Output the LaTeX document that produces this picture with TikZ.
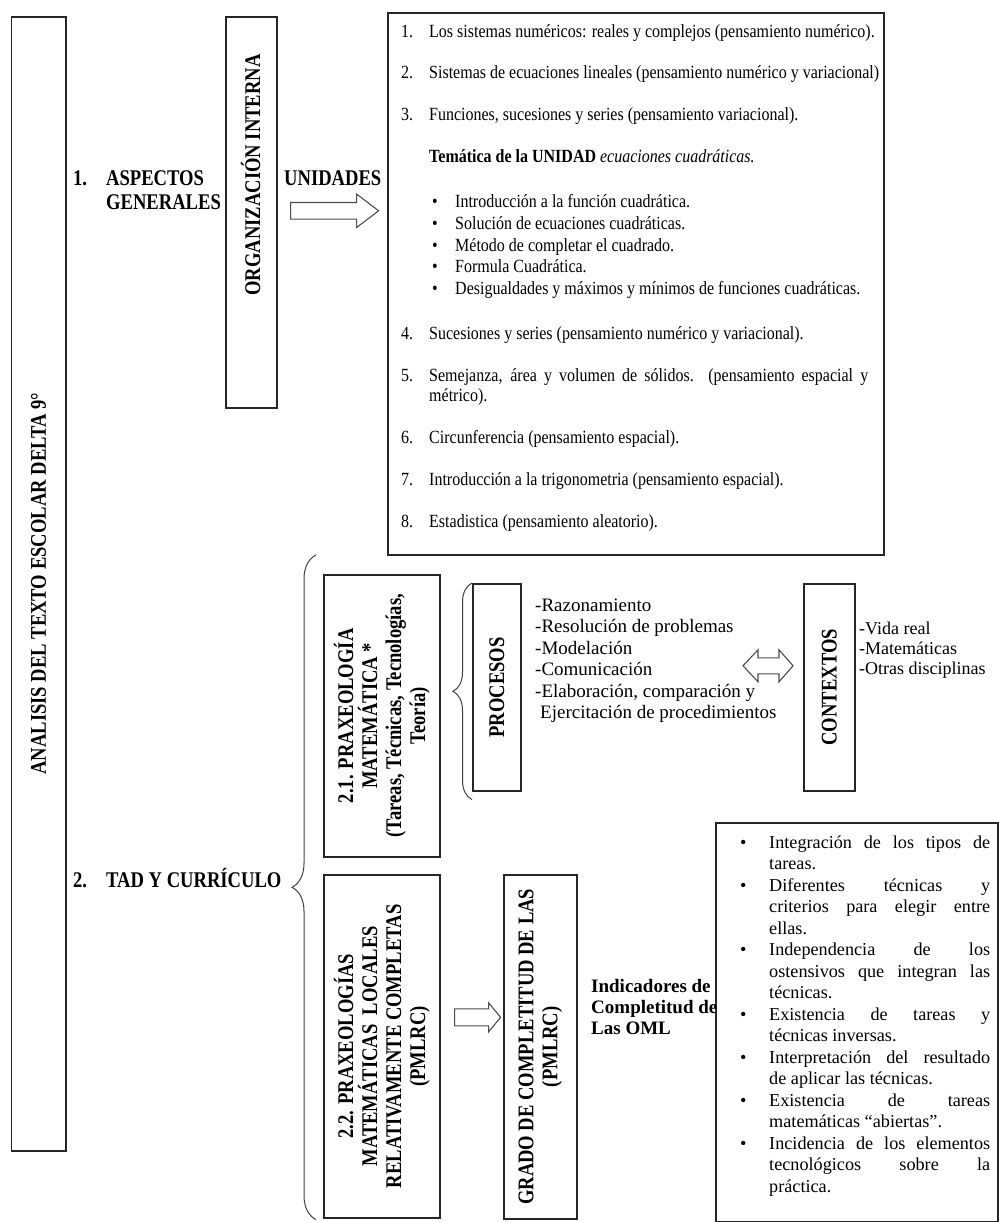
\documentclass[tikz,border=0pt]{standalone}
\usepackage{fontspec}
\setmainfont{Liberation Serif}
\newfontfamily\labf[FakeStretch=0.83]{Liberation Serif}
\newfontfamily\unif[FakeStretch=0.86]{Liberation Serif}
\usetikzlibrary{decorations.pathreplacing,calc}
\newcommand\jl[1]{\makebox[221pt][s]{#1}}
\tikzset{
 box/.style={draw=black!85, line width=1.6pt, inner sep=0pt},
 lab/.style={font=\labf\bfseries\fontsize{22.4}{24}\selectfont, inner sep=0pt, align=center},
 hlab/.style={lab, anchor=base west},
 rlab/.style={lab, rotate=90},
 unit/.style={font=\unif\fontsize{18.6}{21.6}\selectfont, inner sep=0pt, anchor=base west},
 proc/.style={font=\fontsize{19}{21.4}\selectfont, inner sep=0pt, anchor=base west},
 ctxt/.style={font=\fontsize{18}{20}\selectfont, inner sep=0pt, anchor=base west},
 indt/.style={font=\bfseries\fontsize{19}{21}\selectfont, inner sep=0pt, anchor=base west},
 lst/.style={font=\fontsize{18.2}{21.5}\selectfont, inner sep=0pt, anchor=base west},
 harrow/.style={draw=black!70, line width=1.1pt, fill=white, line join=miter},
 brc/.style={decorate, draw=black!75, line width=1pt},
}
\begin{document}
\begin{tikzpicture}[x=1pt,y=-1pt]
\useasboundingbox (0,0) rectangle (998,1222);
% boxes
\node[box, anchor=north west, minimum width=54.3pt, minimum height=1134pt] (left) at (10.7,16) {};
\node[box, anchor=north west, minimum width=51pt, minimum height=391pt] (org) at (225,16) {};
\node[box, anchor=north west, minimum width=496pt, minimum height=542pt] (units) at (387,12) {};
\node[box, anchor=north west, minimum width=116pt, minimum height=282pt] (p21) at (323,574) {};
\node[box, anchor=north west, minimum width=48pt, minimum height=207pt] (proc) at (472,583) {};
\node[box, anchor=north west, minimum width=51pt, minimum height=207pt] (ctx) at (803,583) {};
\node[box, anchor=north west, minimum width=116pt, minimum height=343pt] (p22) at (323,874) {};
\node[box, anchor=north west, minimum width=73pt, minimum height=344pt] (grado) at (503,874) {};
\node[box, anchor=north west, minimum width=282pt, minimum height=399pt] (indbox) at (715,822) {};
% rotated labels
\node[rlab] (lefttxt) at (left.center) {ANALISIS DEL TEXTO ESCOLAR DELTA 9°};
\node[rlab] (orgtxt) at (250.5,175) {ORGANIZACIÓN INTERNA};
\node[rlab] (p21txt) at (p21.center) {2.1. PRAXEOLOGÍA\\MATEMÁTICA *\\(Tareas, Técnicas, Tecnologías,\\Teoría)};
\node[rlab] (proctxt) at (proc.center) {PROCESOS};
\node[rlab] (ctxtxt) at (ctx.center) {CONTEXTOS};
\node[rlab] (p22txt) at (p22.center) {2.2. PRAXEOLOGÍAS\\MATEMÁTICAS~~LOCALES\\RELATIVAMENTE COMPLETAS\\(PMLRC)};
\node[rlab] (gradotxt) at (grado.center) {GRADO DE COMPLETITUD DE LAS\\(PMLRC)};
% horizontal labels
\node[hlab] (n1lab) at (73,186) {1.};
\node[hlab] (asp) at (106,186) {ASPECTOS};
\node[hlab] (gen) at (106,210) {GENERALES};
\node[hlab] (unid) at (284,186) {UNIDADES};
\node[hlab] (n2lab) at (73,887) {2.};
\node[hlab] (tad) at (106,887) {TAD Y CURRÍCULO};
% unidades list
\node[unit] (n1) at (401,38) {1.};
\node[unit] (u1) at (429,38) {Los sistemas numéricos: reales y complejos (pensamiento numérico).};
\node[unit] (n2) at (401,79) {2.};
\node[unit] (u2) at (429,79) {Sistemas de ecuaciones lineales (pensamiento numérico y variacional)};
\node[unit] (n3) at (401,121) {3.};
\node[unit] (u3) at (429,121) {Funciones, sucesiones y series (pensamiento variacional).};
\node[unit] (tem) at (429,163) {\textbf{Temática de la UNIDAD} \textit{ecuaciones cuadráticas.}};
\node[unit] (d1) at (432,208) {•};
\node[unit] (t1) at (455,208) {Introducción a la función cuadrática.};
\node[unit] (d2) at (432,229.6) {•};
\node[unit] (t2) at (455,229.6) {Solución de ecuaciones cuadráticas.};
\node[unit] (d3) at (432,251.2) {•};
\node[unit] (t3) at (455,251.2) {Método de completar el cuadrado.};
\node[unit] (d4) at (432,272.8) {•};
\node[unit] (t4) at (455,272.8) {Formula Cuadrática.};
\node[unit] (d5) at (432,294.4) {•};
\node[unit] (t5) at (455,294.4) {Desigualdades y máximos y mínimos de funciones cuadráticas.};
\node[unit] (n4) at (401,339) {4.};
\node[unit] (u4) at (429,339) {Sucesiones y series (pensamiento numérico y variacional).};
\node[unit] (n5) at (401,381) {5.};
\node[unit] (u5a) at (429,381) {\makebox[439pt][s]{Semejanza, área y volumen de sólidos. (pensamiento espacial y}};
\node[unit] (u5b) at (429,401) {métrico).};
\node[unit] (n6) at (401,443) {6.};
\node[unit] (u6) at (429,443) {Circunferencia (pensamiento espacial).};
\node[unit] (n7) at (401,485) {7.};
\node[unit] (u7) at (429,485) {Introducción a la trigonometria (pensamiento espacial).};
\node[unit] (n8) at (401,527) {8.};
\node[unit] (u8) at (429,527) {Estadistica (pensamiento aleatorio).};
% procesos list
\node[proc] (pr1) at (535,611.5) {-Razonamiento};
\node[proc] (pr2) at (535,632.9) {-Resolución de problemas};
\node[proc] (pr3) at (535,654.3) {-Modelación};
\node[proc] (pr4) at (535,675.7) {-Comunicación};
\node[proc] (pr5) at (535,697.1) {-Elaboración, comparación y};
\node[proc] (pr6) at (540,718.5) {Ejercitación de procedimientos};
% contextos list
\node[ctxt] (c1) at (859,634) {-Vida real};
\node[ctxt] (c2) at (859,654) {-Matemáticas};
\node[ctxt] (c3) at (859,674) {-Otras disciplinas};
% indicadores
\node[indt] (ind1) at (591,992.5) {Indicadores de};
\node[indt] (ind2) at (591,1013.5) {Completitud de};
\node[indt] (ind3) at (591,1034.5) {Las OML};
% indicator list
\node[lst] (e1) at (740,848) {•};
\node[lst] (l0) at (769,848) {\jl{Integración de los tipos de}};
\node[lst] (l1) at (769,869.5) {tareas.};
\node[lst] (e2) at (740,891) {•};
\node[lst] (l2) at (769,891) {\jl{Diferentes técnicas y}};
\node[lst] (l3) at (769,912.5) {\jl{criterios para elegir entre}};
\node[lst] (l4) at (769,934) {ellas.};
\node[lst] (e3) at (740,955.5) {•};
\node[lst] (l5) at (769,955.5) {\jl{Independencia de los}};
\node[lst] (l6) at (769,977) {\jl{ostensivos que integran las}};
\node[lst] (l7) at (769,998.5) {técnicas.};
\node[lst] (e4) at (740,1020) {•};
\node[lst] (l8) at (769,1020) {\jl{Existencia de tareas y}};
\node[lst] (l9) at (769,1041.5) {técnicas inversas.};
\node[lst] (e5) at (740,1063) {•};
\node[lst] (l10) at (769,1063) {\jl{Interpretación del resultado}};
\node[lst] (l11) at (769,1084.5) {de aplicar las técnicas.};
\node[lst] (e6) at (740,1106) {•};
\node[lst] (l12) at (769,1106) {\jl{Existencia de tareas}};
\node[lst] (l13) at (769,1127.5) {matemáticas “abiertas”.};
\node[lst] (e7) at (740,1149) {•};
\node[lst] (l14) at (769,1149) {\jl{Incidencia de los elementos}};
\node[lst] (l15) at (769,1170.5) {\jl{tecnológicos sobre la}};
\node[lst] (l16) at (769,1192) {práctica.};
% block arrows
\coordinate (a1s) at ($(org.east)+(13,-1.5)$);
\draw[harrow] (a1s) ++(0,-8.3) -- ++(66,0) -- ++(0,-8.4) -- ++(22,16.7) -- ++(-22,16.7) -- ++(0,-8.4) -- ++(-66,0) -- cycle;
\coordinate (a2s) at ($(p22.east)+(14,-29)$);
\draw[harrow] (a2s) ++(0,-8.5) -- ++(34,0) -- ++(0,-6) -- ++(12,14.5) -- ++(-12,14.5) -- ++(0,-6) -- ++(-34,0) -- cycle;
\coordinate (dtip) at ($(ctx.west)+(-60,-21.5)$);
\draw[harrow] (dtip) -- ++(15,-16) -- ++(0,8) -- ++(21,0) -- ++(0,-8) -- ++(14,16) -- ++(-14,16) -- ++(0,-8) -- ++(-21,0) -- ++(0,8) -- cycle;
% braces
\coordinate (bt) at ($(p21.north west)+(-7,-19)$);
\coordinate (bb) at ($(p22.south west)+(-7,1)$);
\draw[brc, decoration={brace, amplitude=24pt}] (bb) -- (bt);
\coordinate (ibt) at (proc.north west);
\coordinate (ibb) at ($(proc.south west)+(0,8)$);
\draw[brc, decoration={brace, amplitude=19pt}] (ibb) -- (ibt);
\end{tikzpicture}
\end{document}
